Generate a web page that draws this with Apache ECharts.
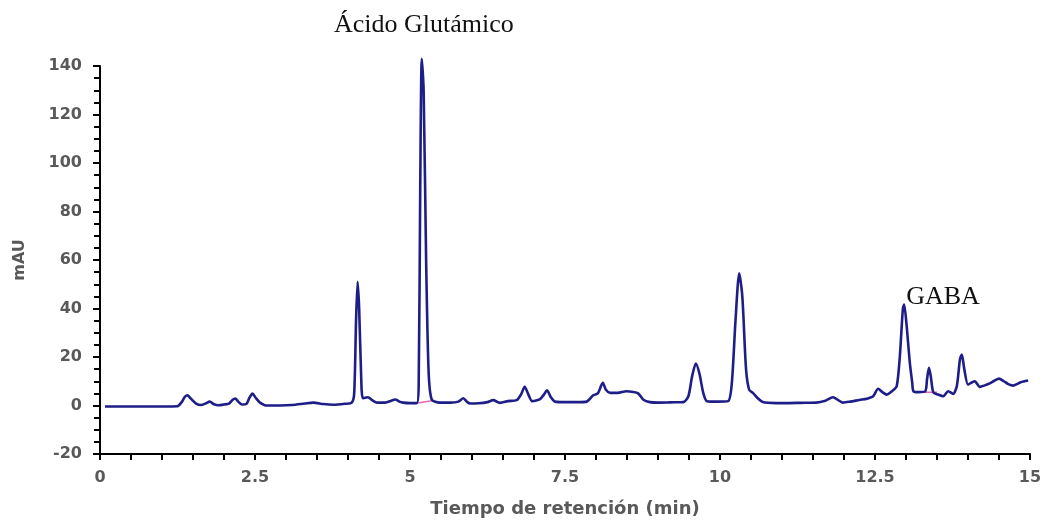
<!DOCTYPE html>
<html>
<head>
<meta charset="utf-8">
<title>Cromatograma</title>
<script src="https://cdn.jsdelivr.net/npm/echarts@6/dist/echarts.min.js"></script>
<style>
  html, body { margin: 0; padding: 0; background: #ffffff; }
  #chart { width: 1047px; height: 523px; }
</style>
</head>
<body>
<div id="chart"></div>
<script>
// Retention time (min) and detector response (mAU) of the chromatogram trace
const retentionTime = [
  0.08, 0.5, 1.0, 1.25, 1.32, 1.37, 1.41, 1.46, 1.55, 1.63, 1.70, 1.77, 1.84, 1.91,
  2.00, 2.08, 2.14, 2.18, 2.23, 2.29, 2.36, 2.41, 2.46, 2.51, 2.58, 2.69, 2.9, 3.1,
  3.3, 3.44, 3.6, 3.76, 3.95, 4.06, 4.10, 4.13, 4.155, 4.18, 4.21, 4.24, 4.32, 4.40,
  4.47, 4.60, 4.70, 4.76, 4.83, 4.89, 5.0, 5.11, 5.14, 5.165, 5.19, 5.22, 5.26, 5.30,
  5.35, 5.48, 5.65, 5.78, 5.86, 5.92, 5.97, 6.10, 6.25, 6.34, 6.45, 6.58, 6.72, 6.79,
  6.85, 6.91, 6.97, 7.05, 7.10, 7.16, 7.21, 7.27, 7.34, 7.50, 7.70, 7.85, 7.95, 8.03,
  8.08, 8.11, 8.16, 8.23, 8.35, 8.49, 8.60, 8.68, 8.76, 8.87, 9.0, 9.2, 9.41, 9.49,
  9.55, 9.61, 9.67, 9.73, 9.79, 9.95, 10.13, 10.19, 10.25, 10.31, 10.36, 10.42, 10.47,
  10.53, 10.61, 10.69, 10.9, 11.1, 11.3, 11.55, 11.70, 11.82, 11.92, 11.98, 12.1,
  12.25, 12.37, 12.47, 12.55, 12.62, 12.69, 12.78, 12.85, 12.90, 12.95, 12.97, 13.01,
  13.06, 13.10, 13.12, 13.2, 13.31, 13.34, 13.37, 13.40, 13.44, 13.52, 13.6, 13.68,
  13.76, 13.82, 13.87, 13.90, 13.94, 14.0, 14.06, 14.11, 14.19, 14.27, 14.35, 14.43,
  14.5, 14.58, 14.65, 14.73, 14.85, 14.97
];
const absorbance = [
  -0.4, -0.4, -0.4, -0.3, 1.5, 3.6, 4.2, 3.0, 0.8, 0.2, 0.8, 1.6, 0.5, 0.1,
  0.4, 0.8, 2.4, 2.9, 1.6, 0.4, 0.6, 3.2, 4.9, 3.2, 1.2, 0.0, 0.0, 0.2,
  0.8, 1.2, 0.6, 0.3, 0.7, 1.2, 5, 35, 51, 40, 14, 3.0, 3.4, 2.0,
  1.2, 1.2, 2.0, 2.5, 1.6, 1.2, 1.0, 1.0, 8, 90, 143, 130, 60, 14,
  2.5, 1.2, 1.2, 1.6, 3.0, 1.5, 0.8, 0.9, 1.4, 2.2, 1.1, 1.8, 2.2, 4.5,
  7.7, 4.5, 1.8, 2.2, 2.7, 4.5, 6.3, 3.5, 1.6, 1.4, 1.4, 1.6, 4.1, 5.0,
  8.0, 9.4, 6.5, 5.2, 5.2, 5.9, 5.6, 5.0, 2.5, 1.4, 1.2, 1.3, 1.4, 3.8,
  12, 17.3, 13, 5.2, 1.8, 1.6, 1.8, 9, 35, 54.5, 45, 15, 6.5,
  5.2, 3.0, 1.4, 1.0, 1.0, 1.1, 1.2, 2.0, 3.4, 2.0, 1.2, 1.6,
  2.3, 2.8, 3.8, 6.9, 5.5, 4.5, 6.0, 7.9, 20, 40, 41.6, 33,
  18, 9.5, 5.9, 5.5, 5.8, 11, 15.5, 12, 5.5, 4.5, 3.8, 5.9,
  4.8, 8, 19, 21, 15, 8.6, 9.5, 10.0, 7.7, 8.3, 9.1, 10.3,
  11.1, 10.0, 8.8, 8.2, 9.6, 10.3
];

// Integration baselines drawn under the two labelled peaks
const baselineGlu = [[5.05, 0.7], [5.35, 2.0]];
const baselineGaba = [[13.2, 5.5], [13.5, 5.5]];

// Labelled compounds: name and apex [time, mAU]
const peakNames = ['Ácido Glutámico', 'GABA'];
const peakApex = [[5.19, 143], [12.97, 41.6]];

// Axis tick labels
const xTickLabels = ['0', '2.5', '5', '7.5', '10', '12.5', '15'];
const yTickLabels = ['-20', '0', '20', '40', '60', '80', '100', '120', '140'];

const trace = retentionTime.map((t, i) => [t, absorbance[i]]);

const axisTextColor = '#595959';
const axisFont = 'DejaVu Sans';
const peakFont = 'Liberation Serif';

const chart = echarts.init(document.getElementById('chart'), null, { renderer: 'canvas' });

chart.setOption({
  backgroundColor: '#ffffff',
  animation: false,
  grid: { left: 100, right: 17, top: 66, bottom: 68, containLabel: false },
  xAxis: {
    type: 'value',
    min: 0,
    max: 15,
    interval: 0.5,
    name: 'Tiempo de retención (min)',
    nameLocation: 'middle',
    nameGap: 46,
    nameTextStyle: { color: axisTextColor, fontFamily: axisFont, fontWeight: 'bold', fontSize: 18 },
    axisLine: { show: true, onZero: false, lineStyle: { color: '#000000', width: 2 } },
    axisTick: { show: true, length: 6, lineStyle: { color: '#000000', width: 2 } },
    axisLabel: {
      margin: 16,
      color: axisTextColor,
      fontFamily: axisFont,
      fontWeight: 'bold',
      fontSize: 16,
      formatter: v => {
        const s = String(Math.round(v * 10) / 10);
        return xTickLabels.includes(s) ? s : '';
      }
    },
    splitLine: { show: false }
  },
  yAxis: {
    type: 'value',
    min: -20,
    max: 140,
    interval: 20,
    name: 'mAU',
    nameLocation: 'middle',
    nameGap: 72,
    nameRotate: 90,
    nameTextStyle: { color: axisTextColor, fontFamily: axisFont, fontWeight: 'bold', fontSize: 16 },
    axisLine: { show: true, onZero: false, lineStyle: { color: '#000000', width: 2 } },
    axisTick: { show: true, length: 7, lineStyle: { color: '#000000', width: 2 } },
    minorTick: { show: true, splitNumber: 4, length: 6, lineStyle: { color: '#000000', width: 2 } },
    axisLabel: {
      margin: 18,
      color: axisTextColor,
      fontFamily: axisFont,
      fontWeight: 'bold',
      fontSize: 16,
      formatter: v => {
        const s = String(v);
        return yTickLabels.includes(s) ? s : '';
      }
    },
    splitLine: { show: false }
  },
  series: [
    {
      name: 'baseline-glu',
      type: 'line',
      data: baselineGlu,
      symbol: 'none',
      silent: true,
      lineStyle: { color: '#e86aa8', width: 1.5 },
      z: 1
    },
    {
      name: 'baseline-gaba',
      type: 'line',
      data: baselineGaba,
      symbol: 'none',
      silent: true,
      lineStyle: { color: '#e86aa8', width: 1.5 },
      z: 1
    },
    {
      name: 'señal',
      type: 'line',
      data: trace,
      symbol: 'none',
      smooth: 0.25,
      clip: false,
      lineStyle: { color: '#1e1e88', width: 2.6 },
      z: 2
    }
  ]
});

// Compound names placed next to their peak apexes (pixel positions from the axes)
const gluPx = chart.convertToPixel({ gridIndex: 0 }, peakApex[0]);
const gabaPx = chart.convertToPixel({ gridIndex: 0 }, peakApex[1]);

chart.setOption({
  graphic: [
    {
      type: 'text',
      x: gluPx[0] + 2,
      y: gluPx[1] - 34,
      silent: true,
      style: {
        text: peakNames[0],
        fill: '#111111',
        font: '26px "' + peakFont + '", serif',
        textAlign: 'center',
        textVerticalAlign: 'middle'
      }
    },
    {
      type: 'text',
      x: gabaPx[0] + 2,
      y: gabaPx[1] - 7,
      silent: true,
      style: {
        text: peakNames[1],
        fill: '#111111',
        font: '26px "' + peakFont + '", serif',
        textAlign: 'left',
        textVerticalAlign: 'middle'
      }
    }
  ]
});
</script>
</body>
</html>
